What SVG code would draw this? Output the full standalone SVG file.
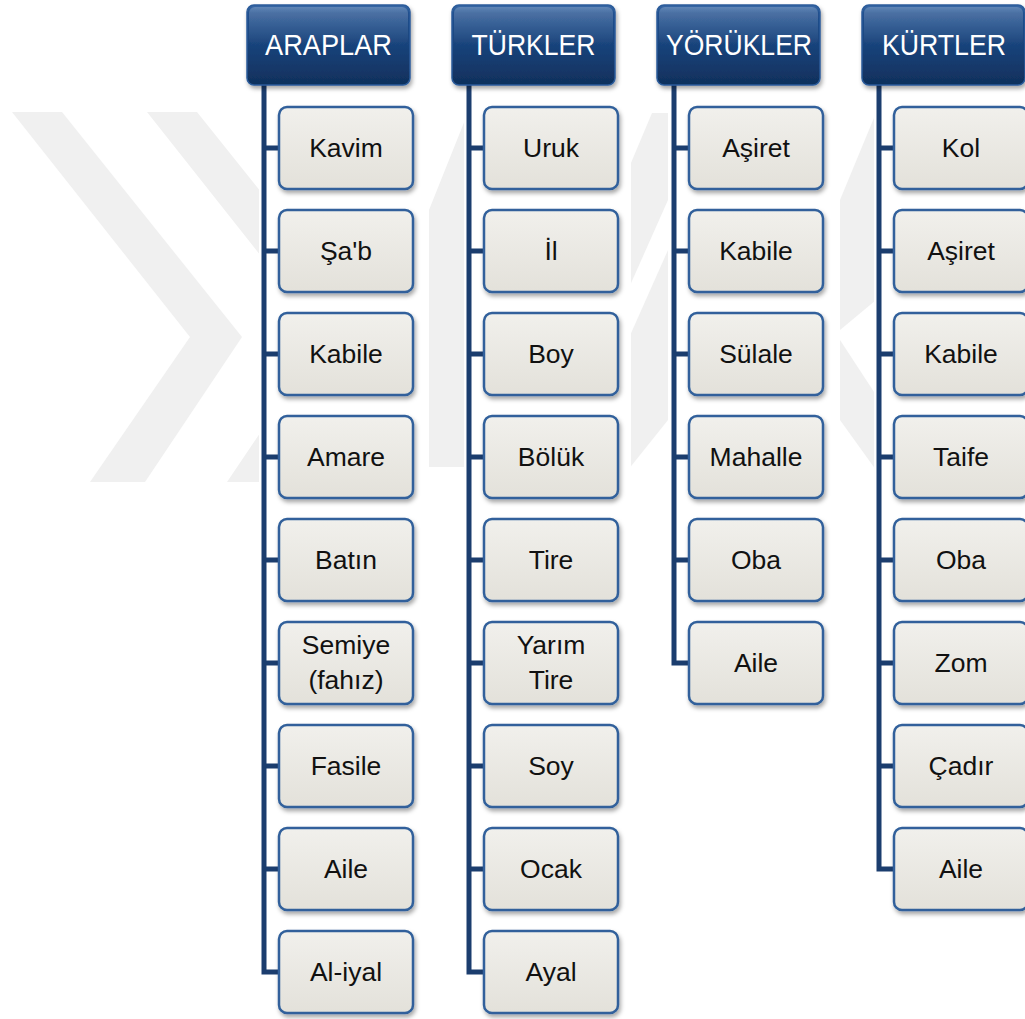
<svg xmlns="http://www.w3.org/2000/svg" width="1025" height="1019" viewBox="0 0 1025 1019">
<defs>
<linearGradient id="hdr" x1="0" y1="0" x2="0" y2="1">
<stop offset="0" stop-color="#3a6aa8"/>
<stop offset="0.1" stop-color="#21508e"/>
<stop offset="0.5" stop-color="#19437b"/>
<stop offset="1" stop-color="#10305c"/>
</linearGradient>
<linearGradient id="gloss" x1="0" y1="0" x2="0" y2="1">
<stop offset="0" stop-color="#ffffff" stop-opacity="0.22"/>
<stop offset="1" stop-color="#ffffff" stop-opacity="0"/>
</linearGradient>
<linearGradient id="box" x1="0" y1="0" x2="0" y2="1">
<stop offset="0" stop-color="#f1f0ec"/>
<stop offset="1" stop-color="#e3e1da"/>
</linearGradient>
<filter id="sh" x="-10%" y="-10%" width="125%" height="130%">
<feDropShadow dx="1.5" dy="3" stdDeviation="2" flood-color="#000" flood-opacity="0.35"/>
</filter>
</defs>
<style>
.hdr{fill:url(#hdr);stroke:#2b5b9a;stroke-width:1.5;filter:url(#sh)}
.hl{fill:url(#gloss)}
.box{fill:url(#box);stroke:#30609b;stroke-width:2.5;filter:url(#sh)}
.ht{font-family:"Liberation Sans",Arial,sans-serif;font-size:29px;fill:#ffffff;text-anchor:middle}
.bt{font-family:"Liberation Sans",Arial,sans-serif;font-size:26.5px;fill:#111111;text-anchor:middle}
.con{fill:none;stroke:#1b3d6e;stroke-width:5}
.wm{fill:#f0f0f0}
.bg{fill:#ffffff}
</style>
<rect width="1025" height="1019" fill="#ffffff"/>
<g id="watermark">
<polygon class="wm" points="12,112 62,112 242,337 145,482 90,482 190,337"/>
<polygon class="wm" points="147,112 197,112 377,337 280,482 227,482 325,337"/>
<polygon class="wm" points="429,210 465,120 465,467 429,467"/>
<polygon class="wm" points="628,170 652,113 668,113 668,200 628,290"/>
<polygon class="wm" points="628,340 668,250 668,420 628,470"/>
<polygon class="wm" points="840,200 876,113 876,300 840,330"/>
<polygon class="wm" points="840,340 876,395 876,470 840,420"/>
</g>
<g id="column-backgrounds">
<rect class="bg" x="259" y="85" width="167" height="934"/>
<rect class="bg" x="464" y="85" width="167" height="934"/>
<rect class="bg" x="669" y="85" width="167" height="934"/>
<rect class="bg" x="874" y="85" width="151" height="934"/>
</g>
<g id="connectors">
<path class="con" d="M264,84 V972 H281 M264,148 H281 M264,251 H281 M264,354 H281 M264,457 H281 M264,560 H281 M264,663 H281 M264,766 H281 M264,869 H281"/>
<path class="con" d="M469,84 V972 H486 M469,148 H486 M469,251 H486 M469,354 H486 M469,457 H486 M469,560 H486 M469,663 H486 M469,766 H486 M469,869 H486"/>
<path class="con" d="M674,84 V663 H691 M674,148 H691 M674,251 H691 M674,354 H691 M674,457 H691 M674,560 H691"/>
<path class="con" d="M879,84 V869 H896 M879,148 H896 M879,251 H896 M879,354 H896 M879,457 H896 M879,560 H896 M879,663 H896 M879,766 H896"/>
</g>
<g id="h-araplar"><rect class="hdr" x="247" y="5" width="163" height="80" rx="7"/><rect class="hl" x="249" y="7" width="159" height="38" rx="6"/><text class="ht" x="328.5" y="55" textLength="127" lengthAdjust="spacingAndGlyphs">ARAPLAR</text></g>
<g id="h-turkler"><rect class="hdr" x="452" y="5" width="163" height="80" rx="7"/><rect class="hl" x="454" y="7" width="159" height="38" rx="6"/><text class="ht" x="533.5" y="55" textLength="124" lengthAdjust="spacingAndGlyphs">TÜRKLER</text></g>
<g id="h-yorukler"><rect class="hdr" x="657" y="5" width="163" height="80" rx="7"/><rect class="hl" x="659" y="7" width="159" height="38" rx="6"/><text class="ht" x="739" y="55" textLength="146" lengthAdjust="spacingAndGlyphs">YÖRÜKLER</text></g>
<g id="h-kurtler"><rect class="hdr" x="862" y="5" width="163" height="80" rx="7"/><rect class="hl" x="864" y="7" width="159" height="38" rx="6"/><text class="ht" x="944" y="55" textLength="124" lengthAdjust="spacingAndGlyphs">KÜRTLER</text></g>

<g id="a1"><rect class="box" x="279" y="107" width="134" height="82" rx="8"/><text class="bt" x="346" y="157">Kavim</text></g>
<g id="a2"><rect class="box" x="279" y="210" width="134" height="82" rx="8"/><text class="bt" x="346" y="260">Şa'b</text></g>
<g id="a3"><rect class="box" x="279" y="313" width="134" height="82" rx="8"/><text class="bt" x="346" y="363">Kabile</text></g>
<g id="a4"><rect class="box" x="279" y="416" width="134" height="82" rx="8"/><text class="bt" x="346" y="466">Amare</text></g>
<g id="a5"><rect class="box" x="279" y="519" width="134" height="82" rx="8"/><text class="bt" x="346" y="569">Batın</text></g>
<g id="a6"><rect class="box" x="279" y="622" width="134" height="82" rx="8"/><text class="bt" x="346" y="654">Semiye</text><text class="bt" x="346" y="689">(fahız)</text></g>
<g id="a7"><rect class="box" x="279" y="725" width="134" height="82" rx="8"/><text class="bt" x="346" y="775">Fasile</text></g>
<g id="a8"><rect class="box" x="279" y="828" width="134" height="82" rx="8"/><text class="bt" x="346" y="878">Aile</text></g>
<g id="a9"><rect class="box" x="279" y="931" width="134" height="82" rx="8"/><text class="bt" x="346" y="981">Al-iyal</text></g>

<g id="t1"><rect class="box" x="484" y="107" width="134" height="82" rx="8"/><text class="bt" x="551" y="157">Uruk</text></g>
<g id="t2"><rect class="box" x="484" y="210" width="134" height="82" rx="8"/><text class="bt" x="551" y="260">İl</text></g>
<g id="t3"><rect class="box" x="484" y="313" width="134" height="82" rx="8"/><text class="bt" x="551" y="363">Boy</text></g>
<g id="t4"><rect class="box" x="484" y="416" width="134" height="82" rx="8"/><text class="bt" x="551" y="466">Bölük</text></g>
<g id="t5"><rect class="box" x="484" y="519" width="134" height="82" rx="8"/><text class="bt" x="551" y="569">Tire</text></g>
<g id="t6"><rect class="box" x="484" y="622" width="134" height="82" rx="8"/><text class="bt" x="551" y="654">Yarım</text><text class="bt" x="551" y="689">Tire</text></g>
<g id="t7"><rect class="box" x="484" y="725" width="134" height="82" rx="8"/><text class="bt" x="551" y="775">Soy</text></g>
<g id="t8"><rect class="box" x="484" y="828" width="134" height="82" rx="8"/><text class="bt" x="551" y="878">Ocak</text></g>
<g id="t9"><rect class="box" x="484" y="931" width="134" height="82" rx="8"/><text class="bt" x="551" y="981">Ayal</text></g>

<g id="y1"><rect class="box" x="689" y="107" width="134" height="82" rx="8"/><text class="bt" x="756" y="157">Aşiret</text></g>
<g id="y2"><rect class="box" x="689" y="210" width="134" height="82" rx="8"/><text class="bt" x="756" y="260">Kabile</text></g>
<g id="y3"><rect class="box" x="689" y="313" width="134" height="82" rx="8"/><text class="bt" x="756" y="363">Sülale</text></g>
<g id="y4"><rect class="box" x="689" y="416" width="134" height="82" rx="8"/><text class="bt" x="756" y="466">Mahalle</text></g>
<g id="y5"><rect class="box" x="689" y="519" width="134" height="82" rx="8"/><text class="bt" x="756" y="569">Oba</text></g>
<g id="y6"><rect class="box" x="689" y="622" width="134" height="82" rx="8"/><text class="bt" x="756" y="672">Aile</text></g>

<g id="k1"><rect class="box" x="894" y="107" width="134" height="82" rx="8"/><text class="bt" x="961" y="157">Kol</text></g>
<g id="k2"><rect class="box" x="894" y="210" width="134" height="82" rx="8"/><text class="bt" x="961" y="260">Aşiret</text></g>
<g id="k3"><rect class="box" x="894" y="313" width="134" height="82" rx="8"/><text class="bt" x="961" y="363">Kabile</text></g>
<g id="k4"><rect class="box" x="894" y="416" width="134" height="82" rx="8"/><text class="bt" x="961" y="466">Taife</text></g>
<g id="k5"><rect class="box" x="894" y="519" width="134" height="82" rx="8"/><text class="bt" x="961" y="569">Oba</text></g>
<g id="k6"><rect class="box" x="894" y="622" width="134" height="82" rx="8"/><text class="bt" x="961" y="672">Zom</text></g>
<g id="k7"><rect class="box" x="894" y="725" width="134" height="82" rx="8"/><text class="bt" x="961" y="775">Çadır</text></g>
<g id="k8"><rect class="box" x="894" y="828" width="134" height="82" rx="8"/><text class="bt" x="961" y="878">Aile</text></g>
</svg>
